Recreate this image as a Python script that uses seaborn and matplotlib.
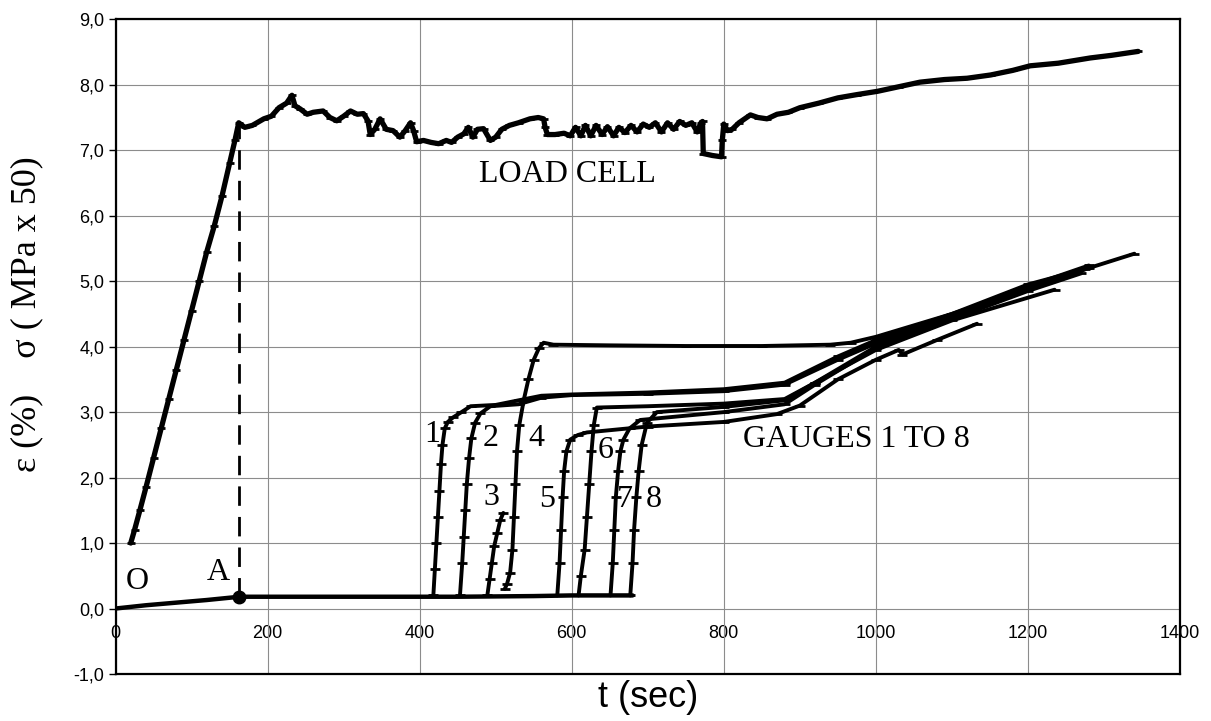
import numpy as np
import pandas as pd
import seaborn as sns
import matplotlib.pyplot as plt
from matplotlib.ticker import FuncFormatter

# load cell (sigma, MPa x 50)
load_t = [20, 25, 32, 40, 50, 60, 70, 80, 90, 100, 110, 120, 130, 140, 150, 157, 162,
          170, 180, 195, 205, 215, 225, 232, 236, 243, 252, 260, 273, 282, 291, 300, 309,
          318, 326, 332, 335, 341, 348, 356, 365, 374, 381, 388, 392, 396, 405, 415, 425,
          435, 442, 450, 458, 464, 470, 476, 484, 493, 500, 508, 518, 530, 545, 556, 563,
          565, 568, 578, 590, 598, 605, 612, 618, 625, 632, 640, 647, 655, 662, 670, 678,
          686, 694, 702, 710, 718, 726, 734, 742, 750, 758, 765, 770, 772, 773, 785, 797,
          798, 800, 805, 811, 820, 835, 845, 857, 870, 885, 900, 925, 950, 975, 1002, 1030,
          1058, 1090, 1120, 1151, 1180, 1203, 1240, 1282, 1310, 1345]
load_v = [1.00, 1.2, 1.5, 1.85, 2.3, 2.75, 3.2, 3.65, 4.1, 4.55, 5.0, 5.45, 5.85, 6.3, 6.8, 7.15, 7.42,
          7.35, 7.38, 7.48, 7.52, 7.65, 7.72, 7.84, 7.68, 7.63, 7.55, 7.58, 7.6, 7.5, 7.45, 7.52, 7.6,
          7.55, 7.56, 7.45, 7.24, 7.32, 7.48, 7.32, 7.3, 7.2, 7.3, 7.42, 7.3, 7.13, 7.15, 7.12, 7.1,
          7.15, 7.12, 7.2, 7.25, 7.35, 7.2, 7.32, 7.33, 7.15, 7.2, 7.32, 7.38, 7.42, 7.48, 7.5, 7.48,
          7.35, 7.24, 7.24, 7.26, 7.22, 7.35, 7.22, 7.38, 7.22, 7.38, 7.24, 7.36, 7.22, 7.35, 7.27, 7.38,
          7.28, 7.4, 7.35, 7.42, 7.28, 7.42, 7.32, 7.44, 7.38, 7.42, 7.28, 7.42, 7.44, 6.95, 6.92, 6.9,
          7.15, 7.4, 7.3, 7.32, 7.42, 7.54, 7.5, 7.48, 7.55, 7.58, 7.65, 7.72, 7.8, 7.85, 7.9, 7.97,
          8.04, 8.08, 8.1, 8.15, 8.22, 8.29, 8.33, 8.41, 8.45, 8.51]

# common strain baseline O -> A -> flat
base_t = [0, 40, 80, 120, 163, 250, 350, 450, 550, 600, 680]
base_v = [0.0, 0.05, 0.09, 0.13, 0.18, 0.18, 0.18, 0.18, 0.19, 0.2, 0.2]

# gauges 1 to 8 (epsilon, %)
g1_t = [418, 420, 422, 424, 426, 428, 430, 433, 437, 444, 455, 467, 500, 530, 560, 600, 700, 800, 880, 950, 1000, 1100, 1200, 1280, 1340]
g1_v = [0.2, 0.6, 1.0, 1.4, 1.8, 2.2, 2.5, 2.75, 2.85, 2.92, 3.0, 3.09, 3.11, 3.18, 3.25, 3.27, 3.3, 3.35, 3.45, 3.85, 4.1, 4.5, 4.95, 5.2, 5.42]
g2_t = [453, 456, 458, 460, 462, 465, 468, 473, 480, 493, 530, 560, 600, 700, 800, 880, 950, 1000, 1100, 1200, 1280]
g2_v = [0.2, 0.7, 1.1, 1.5, 1.9, 2.3, 2.6, 2.84, 2.98, 3.09, 3.12, 3.22, 3.26, 3.28, 3.32, 3.42, 3.8, 4.05, 4.48, 4.92, 5.24]
g3_t = [489, 492, 495, 498, 502, 506, 510]
g3_v = [0.2, 0.45, 0.7, 0.95, 1.15, 1.35, 1.46]
g4_t = [512, 515, 519, 522, 524, 526, 528, 531, 537, 543, 550, 557, 563, 576, 650, 750, 850, 940, 967, 1000, 1100, 1200, 1275]
g4_v = [0.3, 0.38, 0.55, 0.9, 1.4, 1.9, 2.4, 2.8, 3.19, 3.5, 3.8, 3.98, 4.06, 4.03, 4.02, 4.01, 4.01, 4.03, 4.06, 4.15, 4.5, 4.88, 5.18]
g5_t = [581, 584, 586, 588, 590, 593, 598, 608, 620, 700, 800, 870, 900, 950, 1000, 1030, 1035, 1080, 1133]
g5_v = [0.2, 0.7, 1.2, 1.7, 2.1, 2.4, 2.58, 2.65, 2.69, 2.78, 2.85, 2.97, 3.1, 3.5, 3.8, 3.95, 3.88, 4.1, 4.35]
g6_t = [609, 612, 617, 620, 623, 626, 629, 633, 700, 800, 880, 920, 1000, 1100, 1235]
g6_v = [0.2, 0.5, 0.9, 1.4, 1.9, 2.4, 2.8, 3.07, 3.09, 3.13, 3.2, 3.45, 3.95, 4.4, 4.87]
g7_t = [651, 654, 656, 658, 661, 664, 668, 676, 690, 800, 880, 920, 1000, 1100, 1200, 1270]
g7_v = [0.2, 0.7, 1.2, 1.7, 2.1, 2.4, 2.58, 2.75, 2.88, 3.0, 3.12, 3.42, 3.98, 4.42, 4.85, 5.12]
g8_t = [677, 680, 682, 685, 688, 692, 699, 712, 800, 880, 920, 1000, 1100, 1200, 1278]
g8_v = [0.2, 0.7, 1.2, 1.7, 2.1, 2.5, 2.84, 3.0, 3.08, 3.18, 3.45, 4.0, 4.45, 4.9, 5.2]

# point A and the dashed drop line up to the load cell
a_t = [163, 163]
a_v = [0.18, 7.42]

gauge_names = ['1', '2', '3', '4', '5', '6', '7', '8']
gauge_label_t = [416, 493, 495, 554, 567, 644, 670, 708]
gauge_label_v = [2.66, 2.6, 1.7, 2.6, 1.66, 2.42, 1.66, 1.66]

series = {'load': (load_t, load_v), 'base': (base_t, base_v),
          'g1': (g1_t, g1_v), 'g2': (g2_t, g2_v), 'g3': (g3_t, g3_v), 'g4': (g4_t, g4_v),
          'g5': (g5_t, g5_v), 'g6': (g6_t, g6_v), 'g7': (g7_t, g7_v), 'g8': (g8_t, g8_v)}
df = pd.concat([pd.DataFrame({'t': t, 'v': v, 'series': k}) for k, (t, v) in series.items()],
               ignore_index=True)

sns.set_theme(style="white")
plt.rcParams['font.family'] = ['Liberation Sans', 'DejaVu Sans']
plt.rcParams['text.color'] = 'black'
plt.rcParams['axes.labelcolor'] = 'black'
plt.rcParams['xtick.color'] = 'black'
plt.rcParams['ytick.color'] = 'black'

fig = plt.figure(figsize=(12.11, 7.21), dpi=100)
ax = fig.add_axes([0.0954, 0.0652, 0.879, 0.908])

ax.grid(True, color='#8c8c8c', lw=0.8)
ax.set_axisbelow(True)

sns.lineplot(data=df[df['series'] == 'load'], x='t', y='v', estimator=None, sort=False,
             color='black', lw=3.8, marker='_', markersize=6, markeredgewidth=2,
             markeredgecolor='black', ax=ax)
sns.lineplot(data=df[df['series'] == 'base'], x='t', y='v', estimator=None, sort=False,
             color='black', lw=3.2, ax=ax)
sns.lineplot(data=df[df['series'].str.startswith('g')], x='t', y='v', units='series',
             estimator=None, sort=False, color='black', lw=2.8, marker='_',
             markersize=7, markeredgewidth=2, markeredgecolor='black', ax=ax)

ax.plot(a_t, a_v, color='black', lw=2, dashes=(7, 4))
ax.plot(a_t[:1], a_v[:1], 'o', color='black', markersize=9)

serif = ['Liberation Serif', 'DejaVu Serif']
ax.text(28, 0.41, 'O', fontsize=23, family=serif, ha='center', va='center')
ax.text(135, 0.55, 'A', fontsize=23, family=serif, ha='center', va='center')
ax.text(594, 6.63, 'LOAD CELL', fontsize=23, family=serif, ha='center', va='center')
ax.text(975, 2.58, 'GAUGES 1 TO 8', fontsize=23, family=serif, ha='center', va='center')
for name, lt, lv in zip(gauge_names, gauge_label_t, gauge_label_v):
    ax.text(lt, lv, name, fontsize=23, family=serif, ha='center', va='center')

ax.set_xlim(0, 1400)
ax.set_ylim(-1, 9)
ax.set_yticks(np.arange(-1, 10, 1))
ax.yaxis.set_major_formatter(FuncFormatter(lambda v, p: f"{v:.1f}".replace('.', ',')))
ax.tick_params(axis='y', direction='out', length=5, width=1, pad=3, labelsize=13, left=True)
ax.set_xticks(np.arange(0, 1401, 200))
ax.tick_params(axis='x', length=0, labelbottom=False)

secax = ax.secondary_xaxis(0.1)
secax.set_xticks(np.arange(0, 1401, 200))
secax.spines['bottom'].set_visible(False)
secax.tick_params(length=0, pad=12, labelsize=13)

for s in ax.spines.values():
    s.set_visible(True)
    s.set_color('black')
    s.set_linewidth(1.6)

ax.set_xlabel('t (sec)', fontsize=26, labelpad=4)
ax.set_ylabel('ε (%)    σ ( MPa x 50)', fontsize=26, family=serif)
ax.yaxis.set_label_coords(-0.068, 0.55)

fig.savefig('out.png', dpi=100)
